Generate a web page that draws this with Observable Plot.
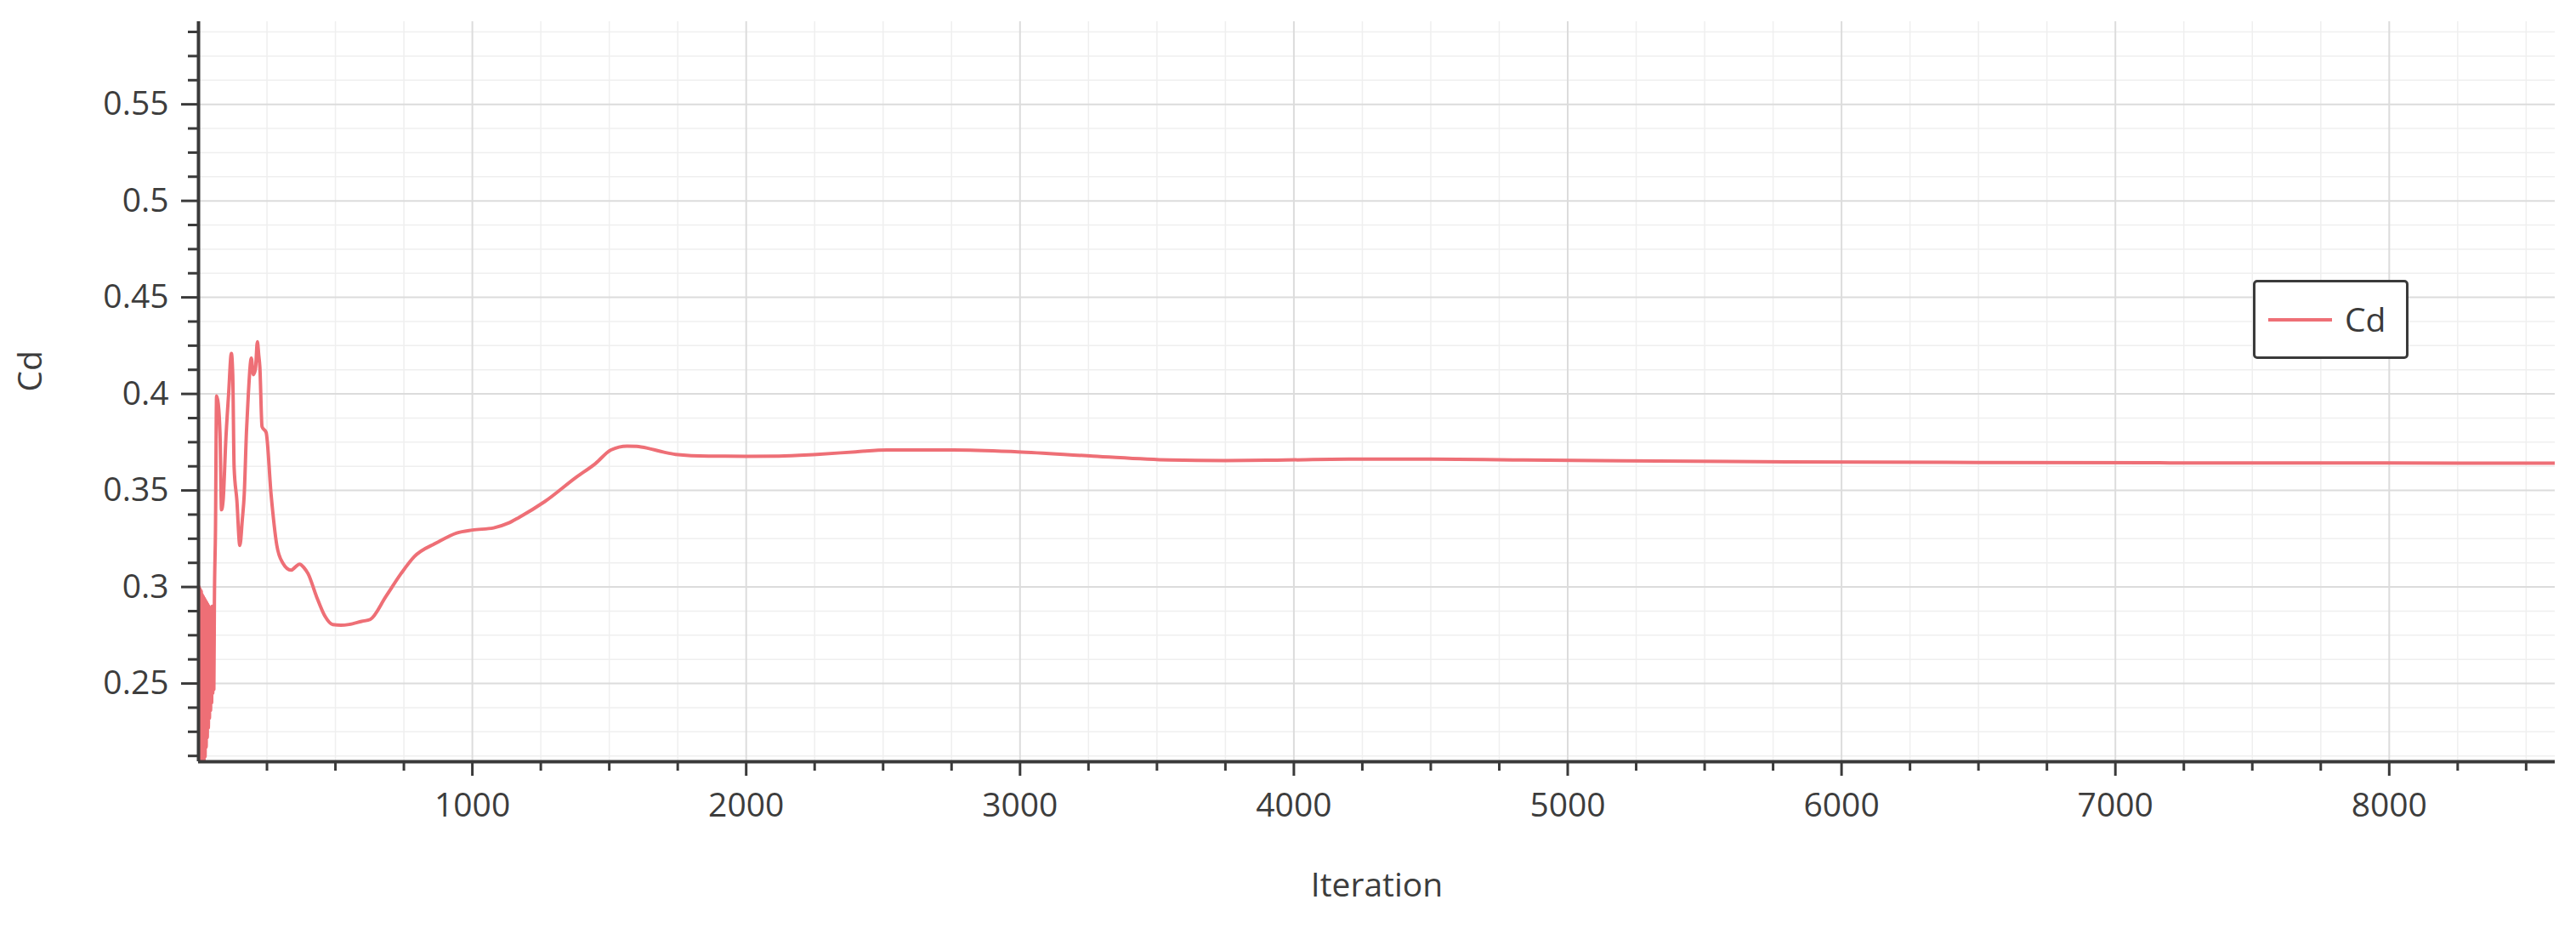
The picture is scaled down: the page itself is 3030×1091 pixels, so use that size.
<!DOCTYPE html>
<html>
<head>
<meta charset="utf-8">
<script src="https://cdn.jsdelivr.net/npm/d3@7"></script>
<script src="https://cdn.jsdelivr.net/npm/@observablehq/plot@0.6"></script>
<style>
  html, body { margin: 0; padding: 0; background: #fff; }
  #wrap { position: relative; width: 3030px; height: 1091px; overflow: hidden; }
  #legend {
    position: absolute; left: 2650px; top: 329px;
    width: 177px; height: 87px;
    border: 3px solid #3a3a3a; border-radius: 5px; background: #fff;
    font-family: "Open Sans", sans-serif; font-size: 39px; color: #3a3a3a;
  }
  #legend .sw { position: absolute; left: 15px; top: 42px; width: 75px; height: 4px; background: #ee6f76; }
  #legend .lb { position: absolute; left: 105px; top: 17px; line-height: 52px; }
</style>
</head>
<body>
<div id="wrap"></div>
<script>
// ---- data ----
const iterations = [
  2, 4, 6, 8, 10, 12, 14, 16, 18, 20, 22, 24, 26, 28, 30, 32, 34, 36, 38, 40,
  42, 44, 46, 48, 50, 52, 54, 56, 58,
  62, 66, 72, 79, 84, 90, 100, 110, 120, 125, 130, 140, 151, 160, 167, 175, 182, 193, 200, 208,
  215, 220, 224, 232, 247, 265, 286, 307, 338, 355, 369, 385, 400, 431, 462, 490, 520, 550, 596, 627,
  684, 740, 788, 870, 943, 1000, 1078, 1130, 1171, 1264, 1378, 1450, 1506, 1565, 1600, 1643, 1700, 1742, 1863, 2000,
  2120, 2258, 2400, 2515, 2755, 2991, 3267, 3546, 3750, 3938, 4200, 4500, 4800, 5200, 5800, 6500, 7200, 8000, 8606
];
const cd = [
  0.300, 0.200, 0.299, 0.200, 0.298, 0.200, 0.296, 0.203, 0.295, 0.207, 0.294, 0.212, 0.293, 0.217, 0.292, 0.222, 0.291, 0.227, 0.290, 0.232,
  0.289, 0.236, 0.288, 0.240, 0.290, 0.245, 0.286, 0.247, 0.292,
  0.330, 0.399, 0.395, 0.377, 0.340, 0.345, 0.377, 0.400, 0.421, 0.410, 0.362, 0.345, 0.3215, 0.335, 0.348, 0.380, 0.400, 0.4185, 0.410, 0.413,
  0.427, 0.420, 0.414, 0.383, 0.380, 0.348, 0.3215, 0.3126, 0.3087, 0.3105, 0.3118, 0.310, 0.3069, 0.295, 0.2848, 0.2805, 0.2802, 0.2806, 0.2822, 0.2832,
  0.295, 0.307, 0.3157, 0.3229, 0.328, 0.3295, 0.3306, 0.333, 0.3361, 0.3442, 0.3567, 0.364, 0.371, 0.373, 0.3728, 0.3718, 0.3698, 0.3687, 0.3678, 0.3677,
  0.3678, 0.3687, 0.370, 0.371, 0.371, 0.370, 0.3678, 0.3658, 0.3655, 0.3657, 0.3662, 0.3662, 0.3658, 0.3653, 0.3648, 0.3645, 0.3643, 0.3642, 0.3641
];
const xDomain = [0, 8606];
const yDomain = [0.2095, 0.5928];
const xMajorTicks = [1000, 2000, 3000, 4000, 5000, 6000, 7000, 8000];
const xMinorTicks = [250, 500, 750, 1250, 1500, 1750, 2250, 2500, 2750, 3250, 3500, 3750, 4250, 4500, 4750,
  5250, 5500, 5750, 6250, 6500, 6750, 7250, 7500, 7750, 8250, 8500];
const yMajorTicks = [0.25, 0.3, 0.35, 0.4, 0.45, 0.5, 0.55];
const yMinorTicks = [0.2125, 0.225, 0.2375, 0.2625, 0.275, 0.2875, 0.3125, 0.325, 0.3375, 0.3625, 0.375, 0.3875,
  0.4125, 0.425, 0.4375, 0.4625, 0.475, 0.4875, 0.5125, 0.525, 0.5375, 0.5625, 0.575, 0.5875];
const xLabel = "Iteration";
const yLabel = "Cd";
const seriesName = "Cd";

const data = iterations.map((x, i) => ({x, y: cd[i]}));
const axisColor = "#3a3a3a";
const textColor = "#3d3d3d";

const chart = Plot.plot({
  width: 3030,
  height: 1091,
  marginLeft: 233,
  marginRight: 25,
  marginTop: 25,
  marginBottom: 196,
  style: {fontFamily: "'Open Sans', sans-serif", fontSize: "39px", background: "#fff", color: textColor},
  x: {domain: xDomain},
  y: {domain: yDomain},
  marks: [
    Plot.gridX(xMinorTicks, {stroke: "#efefef", strokeOpacity: 1, strokeWidth: 1.5}),
    Plot.gridY(yMinorTicks, {stroke: "#efefef", strokeOpacity: 1, strokeWidth: 1.5}),
    Plot.gridX(xMajorTicks, {stroke: "#dcdcdc", strokeOpacity: 1, strokeWidth: 2}),
    Plot.gridY(yMajorTicks, {stroke: "#dcdcdc", strokeOpacity: 1, strokeWidth: 2}),
    Plot.line(data, {x: "x", y: "y", stroke: "#ee6f76", strokeWidth: 4, clip: true, curve: "monotone-x"}),
    Plot.axisX(xMinorTicks, {tickSize: 11, tickFormat: () => "", label: null, stroke: axisColor, strokeWidth: 3}),
    Plot.axisX(xMajorTicks, {tickSize: 17, tickPadding: 20, tickFormat: d => String(d), label: null,
      stroke: axisColor, strokeWidth: 3, fill: textColor}),
    Plot.axisY(yMinorTicks, {tickSize: 12, tickFormat: () => "", label: null, stroke: axisColor, strokeWidth: 3}),
    Plot.axisY(yMajorTicks, {tickSize: 20, tickPadding: 15, tickFormat: d => String(d), label: null,
      stroke: axisColor, strokeWidth: 3, fill: textColor}),
    Plot.ruleX([xDomain[0]], {stroke: axisColor, strokeWidth: 4}),
    Plot.ruleY([yDomain[0]], {stroke: axisColor, strokeWidth: 4}),
    Plot.text([xLabel], {frameAnchor: "bottom", dy: 158, text: d => d, fill: textColor, fontSize: 39}),
    Plot.text([yLabel], {frameAnchor: "left", dx: -197, rotate: -90, text: d => d, fill: textColor, fontSize: 39})
  ]
});

const wrap = document.getElementById("wrap");
wrap.appendChild(chart);
const legend = document.createElement("div");
legend.id = "legend";
legend.innerHTML = `<div class="sw"></div><div class="lb"></div>`;
legend.querySelector(".lb").textContent = seriesName;
wrap.appendChild(legend);
</script>
</body>
</html>
